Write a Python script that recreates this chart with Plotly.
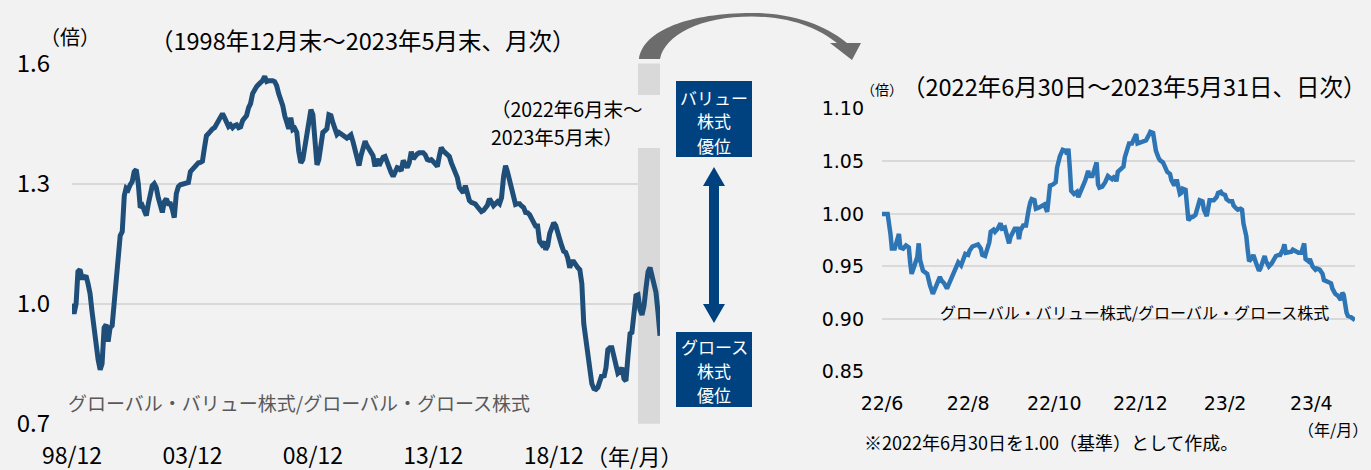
import plotly.graph_objects as go
import pandas as pd

W, H = 1371, 470


def X(px):
    return px / W


def Y(py):
    return 1 - py / H


# ---------------- data: left chart (monthly, 1998/12 - 2023/05) ----------------
left_values = [
    1.00, 0.975, 1.00, 1.08, 1.085, 1.065, 1.065, 1.07, 1.05, 1.025, 0.98, 0.93,
    0.88, 0.86, 0.835, 0.85, 0.94, 0.948, 0.905, 0.94, 0.945, 1.01, 1.08, 1.14,
    1.17, 1.18, 1.27, 1.289, 1.285, 1.297, 1.305, 1.33, 1.335, 1.30, 1.24, 1.245,
    1.235, 1.22, 1.25, 1.28, 1.295, 1.30, 1.29, 1.265, 1.24, 1.228, 1.255, 1.262,
    1.25, 1.25, 1.235, 1.215, 1.275, 1.292, 1.297, 1.298, 1.30, 1.30, 1.303, 1.33,
    1.335, 1.343, 1.345, 1.352, 1.353, 1.356, 1.39, 1.42, 1.425, 1.432, 1.437, 1.44,
    1.449, 1.455, 1.47, 1.475, 1.465, 1.451, 1.443, 1.447, 1.44, 1.445, 1.447, 1.44,
    1.442, 1.458, 1.465, 1.47, 1.49, 1.50, 1.525, 1.538, 1.543, 1.548, 1.552, 1.558,
    1.568, 1.555, 1.557, 1.558, 1.557, 1.555, 1.545, 1.525, 1.51, 1.495, 1.47, 1.447,
    1.437, 1.465, 1.435, 1.438, 1.428, 1.38, 1.352, 1.36, 1.39, 1.43, 1.46, 1.485,
    1.472, 1.40, 1.347, 1.36, 1.41, 1.428, 1.432, 1.437, 1.472, 1.47, 1.452, 1.435,
    1.423, 1.428, 1.425, 1.42, 1.416, 1.414, 1.418, 1.422, 1.405, 1.38, 1.355, 1.345,
    1.37, 1.395, 1.406, 1.395, 1.385, 1.376, 1.37, 1.343, 1.362, 1.345, 1.358, 1.366,
    1.368, 1.352, 1.34, 1.328, 1.318, 1.33, 1.34, 1.338, 1.332, 1.358, 1.345, 1.34,
    1.352, 1.38, 1.362, 1.37, 1.374, 1.377, 1.377, 1.377, 1.372, 1.36, 1.358, 1.36,
    1.355, 1.35, 1.343, 1.368, 1.39, 1.382, 1.378, 1.374, 1.368, 1.352, 1.338, 1.325,
    1.315, 1.29, 1.282, 1.277, 1.295, 1.275, 1.258, 1.253, 1.25, 1.249, 1.242, 1.236,
    1.23, 1.233, 1.239, 1.246, 1.262, 1.25, 1.245, 1.25, 1.255, 1.25, 1.265, 1.318,
    1.345, 1.328, 1.31, 1.29, 1.275, 1.248, 1.25, 1.25, 1.244, 1.24, 1.228, 1.227,
    1.222, 1.212, 1.2, 1.194, 1.194, 1.155, 1.148, 1.155, 1.135, 1.145, 1.175, 1.194,
    1.202, 1.195, 1.182, 1.162, 1.145, 1.131, 1.128, 1.115, 1.09, 1.105, 1.105, 1.095,
    1.09, 1.085, 1.05, 0.95, 0.905, 0.87, 0.83, 0.80, 0.788, 0.786, 0.791, 0.805,
    0.822, 0.816, 0.84, 0.885, 0.89, 0.89, 0.865, 0.84, 0.826, 0.83, 0.84, 0.812,
    0.807, 0.87, 0.925, 0.928, 0.97, 1.02, 1.022, 0.985, 0.972, 0.995, 1.04, 1.08,
    1.09, 1.065, 1.045, 1.028, 0.978, 0.92,
]
left_dates = pd.date_range("1998-12-01", periods=len(left_values), freq="MS")
left_tickvals = ["1998-12-01", "2003-12-01", "2008-12-01", "2013-12-01", "2018-12-01"]
left_ticktext = ["98/12", "03/12", "08/12", "13/12", "18/12"]
left_yticks = [0.7, 1.0, 1.3, 1.6]
left_yticktext = ["0.7", "1.0", "1.3", "1.6"]
band_start, band_end = "2022-06-01", "2023-05-01"
band_label_lines = ["（2022年6月末～", "2023年5月末）"]

# ---------------- data: right chart (daily, 2022/06/30 - 2023/05/31) ----------------
right_dates = [
    "2022-06-30", "2022-07-04", "2022-07-06", "2022-07-07", "2022-07-09", "2022-07-11", "2022-07-12",
    "2022-07-13", "2022-07-15", "2022-07-17", "2022-07-19", "2022-07-20", "2022-07-21", "2022-07-23",
    "2022-07-25", "2022-07-26", "2022-07-27", "2022-07-29", "2022-07-30",
    "2022-08-01", "2022-08-03", "2022-08-05", "2022-08-06", "2022-08-08", "2022-08-10", "2022-08-11",
    "2022-08-13", "2022-08-15", "2022-08-16", "2022-08-18", "2022-08-20", "2022-08-22", "2022-08-23",
    "2022-08-25", "2022-08-27", "2022-08-28", "2022-08-30", "2022-08-31",
    "2022-09-02", "2022-09-04", "2022-09-06", "2022-09-08", "2022-09-09", "2022-09-11", "2022-09-12",
    "2022-09-14", "2022-09-15", "2022-09-17", "2022-09-18", "2022-09-20", "2022-09-22", "2022-09-23",
    "2022-09-25", "2022-09-26", "2022-09-28", "2022-09-29",
    "2022-10-01", "2022-10-02", "2022-10-04", "2022-10-05", "2022-10-06", "2022-10-08", "2022-10-10",
    "2022-10-11", "2022-10-12", "2022-10-13", "2022-10-14", "2022-10-16", "2022-10-17", "2022-10-19",
    "2022-10-21", "2022-10-23", "2022-10-25", "2022-10-26", "2022-10-27", "2022-10-29", "2022-10-31",
    "2022-11-01", "2022-11-03", "2022-11-05", "2022-11-07", "2022-11-08", "2022-11-09", "2022-11-10",
    "2022-11-11", "2022-11-13", "2022-11-15", "2022-11-16", "2022-11-18", "2022-11-20", "2022-11-21",
    "2022-11-23", "2022-11-24", "2022-11-26", "2022-11-27", "2022-11-28", "2022-11-29", "2022-11-30",
    "2022-12-01", "2022-12-03", "2022-12-05", "2022-12-07", "2022-12-08", "2022-12-10", "2022-12-12",
    "2022-12-13", "2022-12-14", "2022-12-16", "2022-12-18", "2022-12-19", "2022-12-21", "2022-12-22",
    "2022-12-24", "2022-12-25", "2022-12-27", "2022-12-28", "2022-12-30",
    "2023-01-01", "2023-01-03", "2023-01-05", "2023-01-06", "2023-01-08", "2023-01-09", "2023-01-10",
    "2023-01-12", "2023-01-13", "2023-01-15", "2023-01-16", "2023-01-18", "2023-01-20", "2023-01-21",
    "2023-01-23", "2023-01-24", "2023-01-25", "2023-01-27", "2023-01-28", "2023-01-29", "2023-01-31",
    "2023-02-01", "2023-02-02", "2023-02-04", "2023-02-05", "2023-02-07", "2023-02-09", "2023-02-10",
    "2023-02-12", "2023-02-13", "2023-02-15", "2023-02-16", "2023-02-17", "2023-02-20", "2023-02-22",
    "2023-02-23", "2023-02-25", "2023-02-26", "2023-02-28",
    "2023-03-01", "2023-03-03", "2023-03-05", "2023-03-06", "2023-03-08", "2023-03-09", "2023-03-11",
    "2023-03-12", "2023-03-13", "2023-03-15", "2023-03-16", "2023-03-17", "2023-03-19", "2023-03-20",
    "2023-03-22", "2023-03-24", "2023-03-25", "2023-03-27", "2023-03-28", "2023-03-29", "2023-03-31",
    "2023-04-02", "2023-04-04", "2023-04-05", "2023-04-07", "2023-04-08", "2023-04-10", "2023-04-11",
    "2023-04-12", "2023-04-14", "2023-04-16", "2023-04-17", "2023-04-19", "2023-04-21", "2023-04-23",
    "2023-04-24", "2023-04-25", "2023-04-26", "2023-04-28", "2023-04-29",
    "2023-05-01", "2023-05-03", "2023-05-04", "2023-05-06", "2023-05-08", "2023-05-09", "2023-05-11",
    "2023-05-12", "2023-05-14", "2023-05-15", "2023-05-17", "2023-05-19", "2023-05-20", "2023-05-21",
    "2023-05-22", "2023-05-23", "2023-05-25", "2023-05-26", "2023-05-28", "2023-05-29", "2023-05-31",
]
right_values = [
    1.000, 1.000, 0.981, 0.967, 0.967, 0.975, 0.981, 0.968, 0.967, 0.970, 0.968, 0.953, 0.943, 0.951,
    0.959, 0.972, 0.956, 0.946, 0.945,
    0.943, 0.932, 0.924, 0.927, 0.935, 0.940, 0.937, 0.934, 0.929, 0.932, 0.937, 0.945, 0.949, 0.954,
    0.951, 0.957, 0.962, 0.961, 0.965,
    0.969, 0.970, 0.971, 0.967, 0.961, 0.960, 0.964, 0.973, 0.983, 0.985, 0.983, 0.986, 0.991, 0.986,
    0.987, 0.983, 0.972, 0.978,
    0.983, 0.986, 0.986, 0.976, 0.984, 0.989, 0.989, 1.002, 1.005, 1.011, 1.014, 1.013, 1.005, 1.006,
    1.008, 1.009, 1.002, 1.013, 1.027, 1.028, 1.030,
    1.044, 1.055, 1.061, 1.060, 1.057, 1.062, 1.044, 1.022, 1.019, 1.021, 1.016, 1.022, 1.027, 1.032,
    1.041, 1.036, 1.036, 1.041, 1.044, 1.049, 1.028,
    1.025, 1.026, 1.030, 1.036, 1.035, 1.033, 1.036, 1.031, 1.040, 1.043, 1.045, 1.054, 1.062, 1.067,
    1.067, 1.070, 1.076, 1.067, 1.068,
    1.068, 1.070, 1.075, 1.078, 1.077, 1.067, 1.060, 1.053, 1.051, 1.049, 1.045, 1.040, 1.038, 1.032,
    1.027, 1.031, 1.031, 1.019, 1.020, 1.024, 1.023,
    1.010, 0.994, 0.997, 0.997, 0.999, 1.010, 1.013, 1.012, 1.004, 0.998, 1.010, 1.013, 1.013, 1.016,
    1.020, 1.021, 1.019, 1.018,
    1.014, 1.012, 1.012, 1.008, 1.005, 1.004, 1.005, 1.004, 0.991, 0.979, 0.966, 0.955, 0.958, 0.961,
    0.953, 0.946, 0.948, 0.958, 0.960, 0.955, 0.950,
    0.953, 0.957, 0.960, 0.961, 0.961, 0.966, 0.971, 0.963, 0.964, 0.964, 0.966, 0.964, 0.963, 0.963,
    0.968, 0.972, 0.957, 0.955, 0.957,
    0.950, 0.947, 0.948, 0.947, 0.943, 0.937, 0.936, 0.936, 0.934, 0.929, 0.924, 0.922, 0.920, 0.918,
    0.925, 0.923, 0.906, 0.903, 0.902, 0.901, 0.899,
]
assert len(right_dates) == len(right_values)
right_tickvals = ["2022-06-30", "2022-08-30", "2022-10-30", "2022-12-30", "2023-02-28", "2023-04-30"]
right_ticktext = ["22/6", "22/8", "22/10", "22/12", "23/2", "23/4"]
right_yticks = [0.85, 0.90, 0.95, 1.00, 1.05, 1.10]
right_yticktext = ["0.85", "0.90", "0.95", "1.00", "1.05", "1.10"]

value_box_lines = ["バリュー", "株式", "優位"]
growth_box_lines = ["グロース", "株式", "優位"]

# ---------------- styles ----------------
BG = "#f2f2f2"
GRID = "#d9d9d9"
NAVY = "#1f4e79"
BLUE = "#2e75b6"
BOX = "#00427f"
JP = "Noto Sans CJK JP"
VERD = "DejaVu Sans, Noto Sans CJK JP"

fig = go.Figure()
fig.add_trace(go.Scatter(x=left_dates, y=left_values, mode="lines",
                         line=dict(color=NAVY, width=5), xaxis="x", yaxis="y",
                         showlegend=False, hoverinfo="skip"))
fig.add_trace(go.Scatter(x=right_dates, y=right_values, mode="lines",
                         line=dict(color=BLUE, width=4.5), xaxis="x2", yaxis="y2",
                         showlegend=False, hoverinfo="skip"))

fig.update_layout(
    width=W, height=H, autosize=False,
    margin=dict(l=0, r=0, t=0, b=0, pad=0, autoexpand=False),
    paper_bgcolor=BG, plot_bgcolor=BG,
    font=dict(family=JP, color="#000000"),
    xaxis=dict(domain=[X(72), X(660)], type="date", automargin=False,
               range=[left_dates[0], left_dates[-1]],
               tickmode="array", tickvals=left_tickvals, ticktext=left_ticktext,
               showgrid=False, zeroline=False, showline=False, ticks="",
               tickfont=dict(family=JP, size=23, color="#000"),
               ticklabelstandoff=16, fixedrange=True),
    yaxis=dict(domain=[Y(424.3), Y(63)], range=[0.6985, 1.6015], automargin=False,
               tickmode="array", tickvals=left_yticks, ticktext=left_yticktext,
               showgrid=True, gridcolor=GRID, gridwidth=2, zeroline=False,
               showline=False, ticks="",
               tickfont=dict(family=JP, size=24, color="#000"),
               ticklabelstandoff=21, fixedrange=True),
    xaxis2=dict(domain=[X(882), X(1355)], type="date", anchor="y2", automargin=False,
                range=["2022-06-30", "2023-05-31"],
                tickmode="array", tickvals=right_tickvals, ticktext=right_ticktext,
                showgrid=False, zeroline=False, showline=False, ticks="",
                tickfont=dict(family=VERD, size=19, color="#000"),
                ticklabelstandoff=18, fixedrange=True),
    yaxis2=dict(domain=[Y(372.1), Y(108.3)], range=[0.8495, 1.1005], anchor="x2",
                automargin=False,
                tickmode="array", tickvals=right_yticks, ticktext=right_yticktext,
                showgrid=True, gridcolor=GRID, gridwidth=2, zeroline=False,
                showline=False, ticks="",
                tickfont=dict(family=VERD, size=19, color="#000"),
                ticklabelstandoff=17, fixedrange=True),
)


def path(cmds):
    parts = []
    for cmd, pts in cmds:
        parts.append(cmd + " " + " ".join(f"{X(px):.5f},{Y(py):.5f}" for px, py in pts))
    return " ".join(parts) + " Z"


shapes = []
# highlighted period band on the left chart
shapes.append(dict(type="rect", xref="x", yref="y", x0=band_start, x1=band_end,
                   y0=0.7, y1=1.6, fillcolor=GRID, line=dict(width=0), layer="below"))
# background patch behind the band label (breaks the band)
shapes.append(dict(type="rect", xref="paper", yref="paper",
                   x0=X(489), x1=X(664), y0=Y(148), y1=Y(95),
                   fillcolor=BG, line=dict(width=0), layer="above"))
# boxes
for top, bot in [(81, 157), (332, 407)]:
    shapes.append(dict(type="rect", xref="paper", yref="paper",
                       x0=X(676), x1=X(752), y0=Y(bot), y1=Y(top),
                       fillcolor=BOX, line=dict(width=0), layer="above"))
# double arrow
shapes.append(dict(type="path", xref="paper", yref="paper", layer="above",
                   fillcolor=BOX, line=dict(width=0),
                   path=path([("M", [(714, 167)]), ("L", [(725, 186)]), ("L", [(719, 186)]),
                              ("L", [(719, 304)]), ("L", [(725, 304)]), ("L", [(714, 323)]),
                              ("L", [(703, 304)]), ("L", [(709, 304)]), ("L", [(709, 186)]),
                              ("L", [(703, 186)])])))
# curved gray arrow
shapes.append(dict(type="path", xref="paper", yref="paper", layer="above",
                   fillcolor="#6c6c6c", line=dict(width=0),
                   path=path([("M", [(639, 59)]),
                              ("C", [(643, 30), (690, 13), (752, 13)]),
                              ("C", [(800, 13), (830, 29), (847, 43)]),
                              ("L", [(861, 43)]), ("L", [(852, 60)]), ("L", [(830, 43)]),
                              ("L", [(837, 43)]),
                              ("C", [(820, 30), (795, 17), (752, 16.5)]),
                              ("C", [(700, 16.5), (665, 35), (660, 59)])])))
fig.update_layout(shapes=shapes)

ann = []


def text(px, py, s, size, xanchor="left", color="#000", family=JP, **kw):
    ann.append(dict(x=X(px), y=Y(py), xref="paper", yref="paper", text=s, showarrow=False,
                    xanchor=xanchor, yanchor="middle",
                    font=dict(family=family, size=size, color=color), **kw))


text(70, 37, "（倍）", 20, xanchor="center")
text(148, 40, "（1998年12月末～2023年5月末、月次）", 23.5)
text(489, 108.5, band_label_lines[0], 19.5)
text(489, 136, band_label_lines[1], 19.5)
text(66, 402, "グローバル・バリュー株式/グローバル・グロース株式", 19, color="#595959")
text(634, 455, "（年/月）", 22, xanchor="center")
for i, s in enumerate(value_box_lines):
    text(714, 97 + 24 * i, s, 17, xanchor="center", color="#ffffff")
for i, s in enumerate(growth_box_lines):
    text(714, 346 + 24 * i, s, 17, xanchor="center", color="#ffffff")
text(882, 89, "（倍）", 14, xanchor="center")
text(900, 86, "（2022年6月30日～2023年5月31日、日次）", 23.5)
text(938, 312, "グローバル・バリュー株式/グローバル・グロース株式", 16)
text(1370, 429, "（年/月）", 16, xanchor="right")
text(862, 442, "※2022年6月30日を1.00（基準）として作成。", 18)
fig.update_layout(annotations=ann)

fig.write_html("out.html", config={"displayModeBar": False, "staticPlot": True})
